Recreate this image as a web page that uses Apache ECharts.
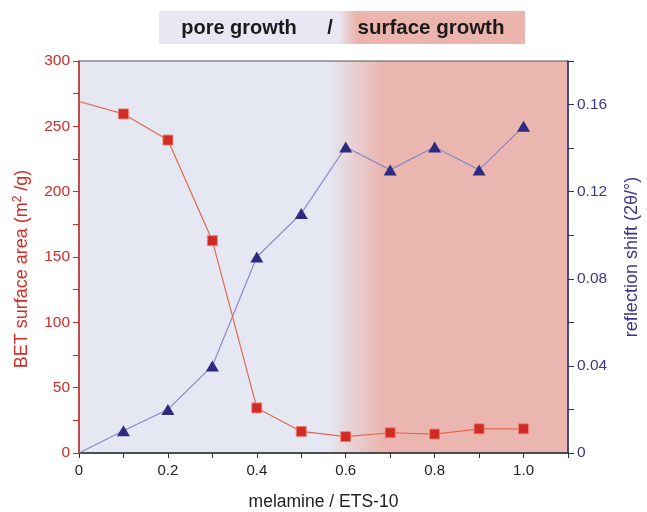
<!DOCTYPE html>
<html><head><meta charset="utf-8">
<script src="https://cdn.jsdelivr.net/npm/echarts@6/dist/echarts.min.js"></script>
<style>html,body{margin:0;padding:0;background:#fff}#c{width:647px;height:512px}</style>
</head><body><div id="c"></div>
<script>
const xValues = [0, 0.1, 0.2, 0.3, 0.4, 0.5, 0.6, 0.7, 0.8, 0.9, 1.0];
const betArea = [269, 259.5, 239.5, 162.5, 34.5, 16.5, 12.5, 15.5, 14.5, 18.5, 18.5];
const reflShift = [0, 0.0102, 0.020, 0.040, 0.090, 0.110, 0.1405, 0.130, 0.1405, 0.130, 0.150];
const bannerLeft = 'pore growth';
const bannerSep = '/';
const bannerRight = 'surface growth';

const FONT = '"Liberation Sans", Arial, sans-serif';
const RED = '#d12b25', REDLINE = '#e2694f', NAVY = '#2d2a80', BLUELINE = '#8a88c4';

function pts(vals, sym) {
  return xValues.map((x, i) => ({ value: [x, vals[i]], symbol: i === 0 ? 'none' : sym }));
}

const chart = echarts.init(document.getElementById('c'));
chart.setOption({
  animation: false,
  grid: {
    left: 79, right: 79, top: 61, bottom: 59, show: true, borderColor: '#555', borderWidth: 1,
    outerBoundsMode: 'none', containLabel: false,
    backgroundColor: new echarts.graphic.LinearGradient(0, 0, 1, 0, [
      { offset: 0, color: '#e5e7f2' },
      { offset: 0.51, color: '#e5e7f2' },
      { offset: 0.62, color: '#ebb6af' },
      { offset: 1, color: '#ebb6af' }
    ])
  },
  graphic: [
    { type: 'rect', left: 159, top: 11, shape: { width: 366, height: 33 },
      style: { fill: new echarts.graphic.LinearGradient(0, 0, 1, 0, [
        { offset: 0, color: '#e8e8f4' }, { offset: 0.49, color: '#e8e8f4' },
        { offset: 0.54, color: '#ebb4ac' }, { offset: 1, color: '#ebb4ac' }]) } },
    { type: 'text', x: 239, y: 28, style: { text: bannerLeft, fill: '#1a1a1a', font: 'bold 20px ' + FONT, textAlign: 'center', textVerticalAlign: 'middle' } },
    { type: 'text', x: 330, y: 28, style: { text: bannerSep, fill: '#1a1a1a', font: 'bold 20px ' + FONT, textAlign: 'center', textVerticalAlign: 'middle' } },
    { type: 'text', x: 431, y: 28, style: { text: bannerRight, fill: '#1a1a1a', font: 'bold 20.5px ' + FONT, textAlign: 'center', textVerticalAlign: 'middle' } }
  ],
  xAxis: {
    type: 'value', min: 0, max: 1.1, interval: 0.1,
    name: 'melamine / ETS-10', nameLocation: 'middle', nameGap: 40,
    nameTextStyle: { color: '#222', fontSize: 17.5, fontFamily: FONT },
    axisLine: { lineStyle: { color: '#333', width: 1.5 } },
    axisTick: { inside: false, length: 5, lineStyle: { color: '#333' } },
    splitLine: { show: false },
    axisLabel: { color: '#222', fontSize: 15, fontFamily: FONT, margin: 10,
      formatter: v => { const k = Math.round(v * 10); if (k === 0) return '0'; if (k % 2 === 0 && k <= 10) return (k / 10).toFixed(1); return ''; } }
  },
  yAxis: [
    {
      type: 'value', min: 0, max: 300, interval: 25, position: 'left',
      name: 'BET surface area (m{sup|2} /g)', nameLocation: 'middle', nameGap: 47, nameRotate: 90,
      nameTextStyle: { color: RED, fontSize: 18, fontFamily: FONT, padding: [0, 0, 0, -24],
        rich: { sup: { fontSize: 12, color: RED, fontFamily: FONT, verticalAlign: 'top', padding: [0, 0, 8, 0] } } },
      axisLine: { show: true, lineStyle: { color: RED, width: 1.5 } },
      axisTick: { show: true, length: 6, lineStyle: { color: RED } },
      splitLine: { show: false },
      axisLabel: { color: RED, fontSize: 15.5, fontFamily: FONT, margin: 9,
        formatter: v => (Math.round(v) % 50 === 0 ? String(Math.round(v)) : '') }
    },
    {
      type: 'value', min: 0, max: 0.18, interval: 0.02, position: 'right',
      name: 'reflection shift (2θ/°)', nameLocation: 'middle', nameGap: 55, nameRotate: 90,
      nameTextStyle: { color: '#3b3788', fontSize: 18, fontFamily: FONT },
      axisLine: { show: true, lineStyle: { color: NAVY, width: 1.5 } },
      axisTick: { show: true, length: 6, lineStyle: { color: NAVY } },
      splitLine: { show: false },
      axisLabel: { color: '#3b3788', fontSize: 15.5, fontFamily: FONT, margin: 9,
        formatter: v => { const k = Math.round(v * 100); if (k === 0) return '0'; return (k % 4 === 0 && k < 18) ? (k / 100).toFixed(2) : ''; } }
    }
  ],
  series: [
    {
      type: 'line', yAxisIndex: 0, data: pts(betArea, 'rect'), symbolSize: 10,
      lineStyle: { color: REDLINE, width: 1.2 },
      itemStyle: { color: RED, borderColor: '#f08070', borderWidth: 0.8 }, z: 3
    },
    {
      type: 'line', yAxisIndex: 1, data: pts(reflShift, 'triangle'), symbolSize: [13, 11],
      lineStyle: { color: BLUELINE, width: 1.2 },
      itemStyle: { color: NAVY, borderWidth: 0 }, z: 2
    }
  ]
});
</script></body></html>
